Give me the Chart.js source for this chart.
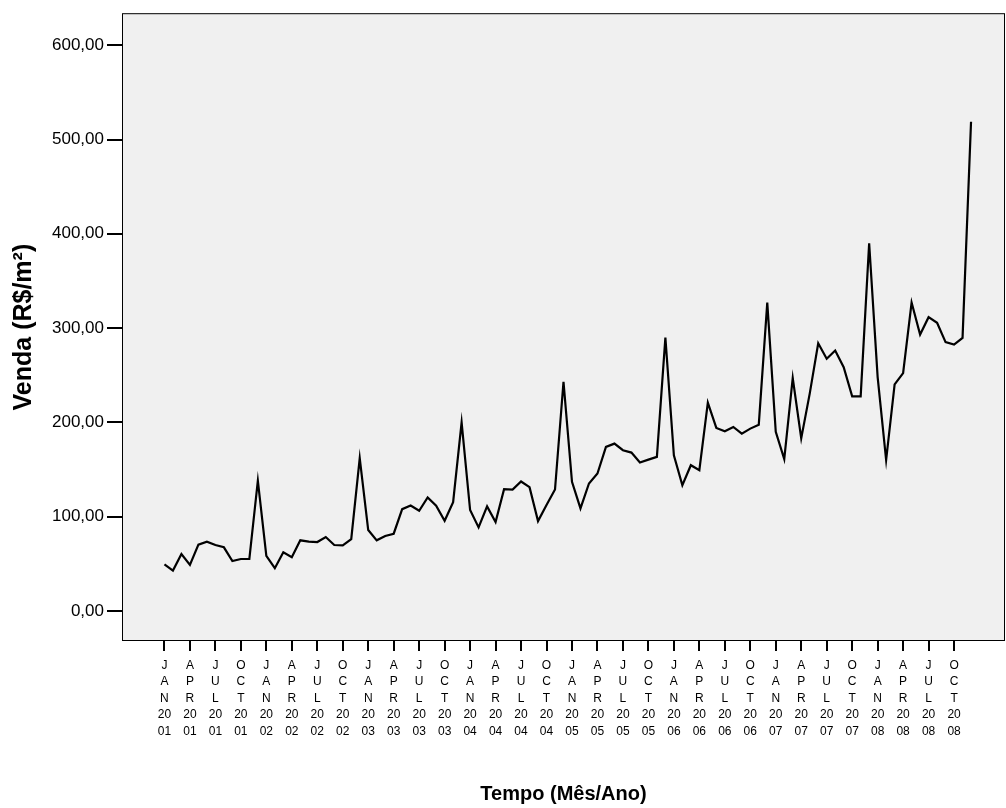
<!DOCTYPE html>
<html lang="pt">
  <head>
    <meta charset="UTF-8" />
    <title>Venda (R$/m²) x Tempo</title>
    <script src="https://cdn.jsdelivr.net/npm/chart.js@4.4.1/dist/chart.umd.min.js"></script>
    <style>
      body { margin: 0; background: #ffffff; }
      #wrap { width: 1006px; height: 808px; }
    </style>
  </head>
  <body>
    <div id="wrap">
      <canvas id="vendaChart" width="1006" height="808"></canvas>
    </div>
    <script>
      // months and years on the time axis
      const monthNames = ["JAN", "FEB", "MAR", "APR", "MAY", "JUN", "JUL", "AUG", "SEP", "OCT", "NOV", "DEC"];
      const years = ["2001", "2002", "2003", "2004", "2005", "2006", "2007", "2008"];
      const tickMonths = ["JAN", "APR", "JUL", "OCT"];
      const yTicks = [0, 100, 200, 300, 400, 500, 600];

      // monthly sales (R$/m2), Jan 2001 .. Dec 2008
      const venda = [
        49.4, 42.7, 60.3, 48.7, 70.2, 73.4, 69.8, 67.4, 52.9, 55.0, 55.0, 138,
        58.2, 45.2, 62.1, 56.8, 74.8, 73.4, 73.0, 78.3, 69.8, 69.5, 76.0, 162,
        85.7, 74.8, 79.4, 81.8, 107.9, 111.8, 106.2, 120.3, 111.5, 95.6, 115.3, 200,
        106.9, 88.5, 110.8, 94.2, 129.1, 128.7, 137.2, 131.2, 95.2, 112.2, 128.7, 243,
        136.9, 108.7, 135.1, 145.7, 173.9, 177.4, 170.4, 167.9, 157.3, 160.4, 163.3, 290,
        165.1, 133.3, 154.5, 149.2, 220.8, 194.0, 190.5, 195.1, 188.0, 193.3, 197.5, 327,
        189.8, 161, 247, 183, 230.4, 283.9, 267.4, 276.2, 258.5, 227.5, 227.5, 390,
        248, 160, 240.2, 252.2, 327, 293.1, 311.5, 305.5, 285.0, 282.5, 289.6, 518.9
      ];

      const points = venda.map((v, i) => ({ x: i, y: v }));

      // quarter ticks (JAN, APR, JUL, OCT of each year)
      const xTickValues = [];
      years.forEach((y, yi) => {
        tickMonths.forEach(m => xTickValues.push(yi * 12 + monthNames.indexOf(m)));
      });

      const plotBox = {
        id: "plotBox",
        beforeDraw(chart) {
          const { ctx, chartArea: a } = chart;
          ctx.save();
          ctx.fillStyle = "#f0f0f0";
          ctx.fillRect(a.left, a.top, a.right - a.left, a.bottom - a.top);
          ctx.restore();
        },
        beforeDatasetsDraw(chart) {
          const { ctx, chartArea: a } = chart;
          ctx.save();
          ctx.strokeStyle = "#000";
          ctx.lineWidth = 1;
          ctx.strokeRect(a.left + 0.5, a.top + 0.5, a.right - a.left - 1, a.bottom - a.top - 1);
          ctx.restore();
        }
      };

      const ctx = document.getElementById("vendaChart").getContext("2d");
      new Chart(ctx, {
        type: "line",
        data: {
          datasets: [{
            label: "Venda",
            data: points,
            borderColor: "#000",
            borderWidth: 2.2,
            pointRadius: 0,
            tension: 0,
            fill: false
          }]
        },
        options: {
          responsive: false,
          animation: false,
          layout: { padding: { top: 12, right: 1, left: 0, bottom: 0 } },
          plugins: {
            legend: { display: false },
            tooltip: { enabled: false }
          },
          scales: {
            x: {
              type: "linear",
              min: -5,
              max: 99,
              afterBuildTicks: (scale) => { scale.ticks = xTickValues.map(v => ({ value: v })); },
              afterFit: (scale) => { scale.height = 167; },
              border: { display: false },
              grid: { drawOnChartArea: false, drawTicks: true, tickLength: 10, color: "#000", lineWidth: 2 },
              ticks: {
                autoSkip: false,
                maxRotation: 0,
                padding: 6,
                color: "#000",
                font: { family: "Liberation Sans, Arial, sans-serif", size: 12, lineHeight: 1.375 },
                callback: (value) => {
                  const m = monthNames[value % 12];
                  const y = years[Math.floor(value / 12)];
                  return [m[0], m[1], m[2], y.slice(0, 2), y.slice(2)];
                }
              },
              title: {
                display: true,
                text: "Tempo (Mês/Ano)",
                color: "#000",
                font: { family: "Liberation Sans, Arial, sans-serif", size: 20, weight: "bold" },
                padding: { top: 0, bottom: 2 }
              }
            },
            y: {
              min: -32,
              max: 634,
              afterBuildTicks: (scale) => { scale.ticks = yTicks.map(v => ({ value: v })); },
              afterFit: (scale) => { scale.width = 122; },
              border: { display: false },
              grid: { drawOnChartArea: false, drawTicks: true, tickLength: 15, color: "#000", lineWidth: 2 },
              ticks: {
                padding: 3,
                color: "#000",
                font: { family: "Liberation Sans, Arial, sans-serif", size: 17 },
                callback: (value) => value.toFixed(2).replace(".", ",")
              },
              title: {
                display: true,
                text: "Venda (R$/m²)",
                color: "#000",
                font: { family: "Liberation Sans, Arial, sans-serif", size: 25, weight: "bold" },
                padding: { top: 9, bottom: 0 }
              }
            }
          }
        },
        plugins: [plotBox]
      });
    </script>
  </body>
</html>
